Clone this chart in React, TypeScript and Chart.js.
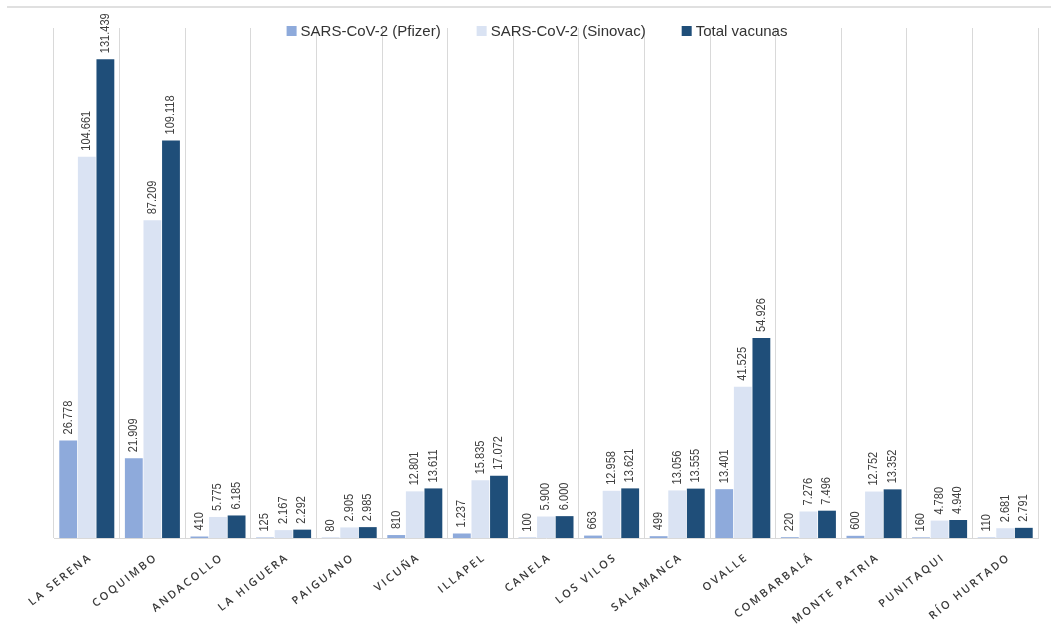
import React, { useEffect, useRef } from "react";
import { Chart, registerables } from "chart.js";

Chart.register(...registerables);

const categories = [
  "LA SERENA", "COQUIMBO", "ANDACOLLO", "LA HIGUERA", "PAIGUANO", "VICUÑA", "ILLAPEL",
  "CANELA", "LOS VILOS", "SALAMANCA", "OVALLE", "COMBARBALÁ", "MONTE PATRIA", "PUNITAQUI", "RÍO HURTADO",
];
const pfizer = [26778, 21909, 410, 125, 80, 810, 1237, 100, 663, 499, 13401, 220, 600, 160, 110];
const sinovac = [104661, 87209, 5775, 2167, 2905, 12801, 15835, 5900, 12958, 13056, 41525, 7276, 12752, 4780, 2681];
const total = [131439, 109118, 6185, 2292, 2985, 13611, 17072, 6000, 13621, 13555, 54926, 7496, 13352, 4940, 2791];
const seriesNames = ["SARS-CoV-2 (Pfizer)", "SARS-CoV-2 (Sinovac)", "Total vacunas"];
const seriesColors = ["#8eaadb", "#dae3f3", "#1f4e79"];
const yMax = 140000;

const fmt = (v: number) => String(v).replace(/\B(?=(\d{3})+(?!\d))/g, ".");

const decorPlugin = {
  id: "decor",
  beforeDraw(chart: any) {
    const ctx = chart.ctx;
    ctx.save();
    ctx.strokeStyle = "#e0e0e0";
    ctx.lineWidth = 2;
    ctx.beginPath();
    ctx.moveTo(7, 7);
    ctx.lineTo(1051, 7);
    ctx.stroke();
    ctx.restore();
  },
  afterDatasetsDraw(chart: any) {
    const ctx = chart.ctx;
    // data labels
    ctx.save();
    ctx.font = "12px 'Liberation Sans'";
    ctx.fillStyle = "#404040";
    ctx.textAlign = "left";
    ctx.textBaseline = "middle";
    chart.data.datasets.forEach((ds: any, di: number) => {
      const meta = chart.getDatasetMeta(di);
      meta.data.forEach((el: any, i: number) => {
        ctx.save();
        ctx.translate(el.x, el.y - 6);
        ctx.rotate(-Math.PI / 2);
        ctx.scale(0.92, 1);
        ctx.fillText(fmt(ds.data[i]), 0, 0);
        ctx.restore();
      });
    });
    ctx.restore();

    // category labels
    const xs = chart.scales.x;
    ctx.save();
    ctx.font = "600 11px 'Open Sans'";
    ctx.fillStyle = "#3a3a3a";
    (ctx as any).letterSpacing = "2.2px";
    ctx.textAlign = "right";
    ctx.textBaseline = "middle";
    const ang = (38 * Math.PI) / 180;
    categories.forEach((c, i) => {
      const x = xs.getPixelForValue(i);
      ctx.save();
      ctx.translate(x + 4, 556);
      ctx.rotate(-ang);
      ctx.fillText(c, 0, 0);
      ctx.restore();
    });
    ctx.restore();

    // legend
    ctx.save();
    ctx.font = "15px 'Liberation Sans'";
    ctx.textBaseline = "middle";
    ctx.textAlign = "left";
    const box = 10, gapBox = 4, gapItem = 36;
    const widths = seriesNames.map((n) => ctx.measureText(n).width);
    const totalW = widths.reduce((a, w) => a + box + gapBox + w, 0) + gapItem * (seriesNames.length - 1);
    let x = 537 - totalW / 2;
    const y = 31;
    seriesNames.forEach((n, i) => {
      ctx.fillStyle = seriesColors[i];
      ctx.fillRect(x, y - box / 2, box, box);
      x += box + gapBox;
      ctx.fillStyle = "#333333";
      ctx.fillText(n, x, y + 1);
      x += widths[i] + gapItem;
    });
    ctx.restore();
  },
};

export default function App() {
  const ref = useRef<HTMLCanvasElement>(null);
  useEffect(() => {
    document.body.style.margin = "0";
    const chart = new Chart(ref.current!, {
      type: "bar",
      data: {
        labels: categories,
        datasets: [pfizer, sinovac, total].map((d, i) => ({
          label: seriesNames[i],
          data: d,
          backgroundColor: seriesColors[i],
          borderWidth: 0,
          barPercentage: 0.96,
          categoryPercentage: 0.85,
        })),
      },
      options: {
        animation: false,
        responsive: false,
        maintainAspectRatio: false,
        layout: { padding: { left: 54, right: 13, top: 28, bottom: 99 } },
        plugins: { legend: { display: false }, tooltip: { enabled: false } },
        scales: {
          x: {
            grid: { offset: true, color: "#d9d9d9", lineWidth: 1, drawTicks: false, tickLength: 0 },
            border: { display: true, color: "#d9d9d9", width: 1 },
            ticks: { display: false },
          },
          y: {
            display: false,
            min: 0,
            max: yMax,
          },
        },
      },
      plugins: [decorPlugin],
    });
    return () => chart.destroy();
  }, []);
  return (
    <div style={{ position: "fixed", left: 0, top: 0, width: 1051, height: 637, background: "#fff" }}>
      <canvas ref={ref} width={1051} height={637} />
    </div>
  );
}
